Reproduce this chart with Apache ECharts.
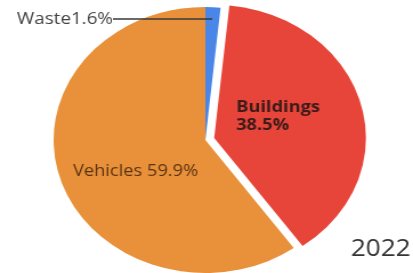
<!DOCTYPE html>
<html><head><meta charset="utf-8">
<script src="https://cdn.jsdelivr.net/npm/echarts@6/dist/echarts.min.js"></script>
<style>html,body{margin:0;padding:0;background:#fff;overflow:hidden}
#c{width:362px;height:273px;transform:scaleX(1.1409);transform-origin:0 0}</style>
</head><body><div id="c"></div>
<script>
var categories = ['Waste', 'Buildings', 'Vehicles'];
var values = [1.6, 38.5, 59.9];
var colors = ['#4a86e8', '#e8453a', '#e8913a'];
var yearLabel = '2022';

var chart = echarts.init(document.getElementById('c'), null, {renderer: 'canvas'});
var mainData = categories.map(function (c, i) {
  var d = {name: c, value: values[i], itemStyle: {color: colors[i]}, labelLine: {show: false}};
  if (c === 'Buildings') {
    d.selected = true;
    d.label = {show: true, position: 'inside', formatter: '{b}\n{c}%', fontWeight: 'bold', color: '#3b1c1a', fontSize: 16, lineHeight: 18};
  } else if (c === 'Vehicles') {
    d.label = {show: true, position: 'inside', formatter: '{b} {c}%', color: '#5a3312', fontSize: 16};
  } else {
    d.label = {show: false};
  }
  return d;
});
var labelData = categories.map(function (c, i) {
  var d = {name: c, value: values[i], itemStyle: {color: 'rgba(0,0,0,0)'}};
  if (c === 'Waste') {
    d.label = {show: true, position: 'outside', formatter: '{b}{c}%', color: '#444', fontSize: 16.5};
    d.labelLine = {show: true};
  } else {
    d.label = {show: false};
    d.labelLine = {show: false};
  }
  return d;
});
chart.setOption({
  animation: false,
  title: {text: yearLabel, right: 2, bottom: 12, padding: 0, textStyle: {fontFamily: 'Open Sans', fontSize: 23, fontWeight: 'normal', color: '#333'}},
  series: [{
    type: 'pie',
    z: 2,
    center: [180, 140],
    radius: 133,
    startAngle: 90,
    clockwise: true,
    selectedMode: 'single',
    selectedOffset: 8,
    avoidLabelOverlap: false,
    itemStyle: {borderWidth: 0},
    label: {fontFamily: 'Open Sans'},
    emphasis: {disabled: true},
    labelLayout: function (p) {
      if (p.dataIndex === 1) return {dx: -48, dy: -4, align: 'left'};
      if (p.dataIndex === 2) return {dx: 5, dy: 10};
      return {};
    },
    data: mainData
  }, {
    type: 'pie',
    z: 5,
    center: [180, 140],
    radius: 121,
    startAngle: 90,
    clockwise: true,
    silent: true,
    avoidLabelOverlap: false,
    itemStyle: {borderWidth: 0},
    label: {fontFamily: 'Open Sans'},
    labelLine: {length: 0, length2: 86, maxSurfaceAngle: 180, minTurnAngle: 0, lineStyle: {color: '#3a3a3a', width: 1.5}},
    emphasis: {disabled: true},
    labelLayout: function (p) {
      if (p.dataIndex === 0) return {x: 99, y: 19, align: 'right', verticalAlign: 'middle'};
      return {};
    },
    data: labelData
  }]
});
</script></body></html>
